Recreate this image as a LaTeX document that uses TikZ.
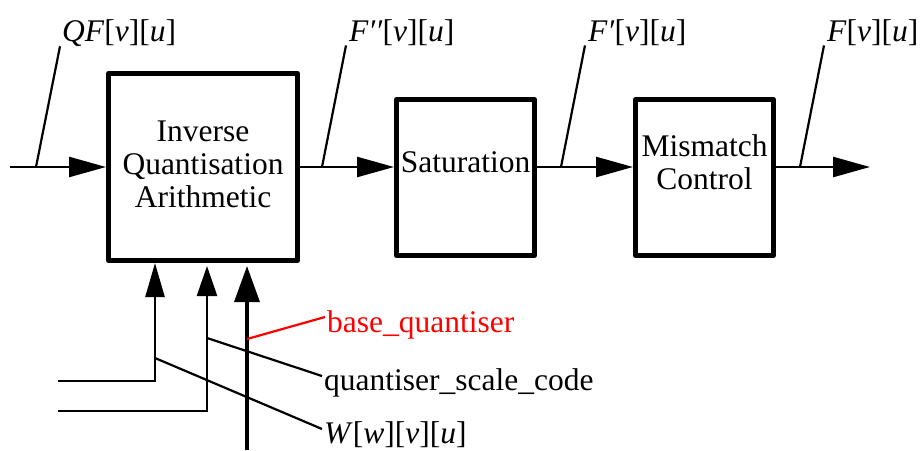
\documentclass[tikz,border=0pt]{standalone}
\usepackage{fontspec}
\setmainfont{Liberation Serif}
\usetikzlibrary{arrows.meta}
\begin{document}
\begin{tikzpicture}[x=1pt,y=-1pt,
  box/.style={draw, line width=5pt, line join=round, inner sep=0pt},
  txt/.style={inner sep=0pt, align=center, font=\fontsize{31.5}{33}\selectfont},
  lbl/.style={inner sep=0pt, font=\fontsize{31.5}{33}\selectfont},
  sig/.style={line width=2.5pt},
  arr/.style={sig, -{Triangle[length=37pt,width=20pt]}},
  lead/.style={line width=2.2pt}]
\useasboundingbox (0,0) rectangle (920,450);

% boxes
\node[box, minimum width=189pt, minimum height=187pt] (iq) at (203,167) {};
\node[box, minimum width=138pt, minimum height=156pt] (sat) at (465.5,177.5) {};
\node[box, minimum width=138pt, minimum height=156pt] (mm) at (704.5,177.5) {};
\node[txt] (iqt) at (203,164) {Inverse\\Quantisation\\Arithmetic};
\node[txt] (satt) at (465.5,162.5) {Saturation};
\node[txt] (mmt) at (704.5,162) {Mismatch\\Control};

% main signal path
\coordinate (in) at (10,167);
\coordinate (out) at (870,167);
\draw[arr] (in) -- (iq.west);
\draw[arr] (iq.east) -- (sat.west |- iq.east);
\draw[arr] (sat.east |- iq.east) -- (mm.west |- iq.east);
\draw[arr] (mm.east |- iq.east) -- (out);

% top labels
\node[lbl, anchor=base west] (qf) at (62,41) {\textit{QF}[\textit{v}][\textit{u}]};
\node[lbl, anchor=base west] (fpp) at (349,41) {\textit{F′′}[\textit{v}][\textit{u}]};
\node[lbl, anchor=base west] (fp) at (588,41) {\textit{F′}[\textit{v}][\textit{u}]};
\node[lbl, anchor=base west] (f) at (827,41) {\textit{F}[\textit{v}][\textit{u}]};
\coordinate (qfp) at (36,167);
\coordinate (fppp) at (322,167);
\coordinate (fpp2) at (561,167);
\coordinate (fp2) at (800,167);
\draw[lead] (qfp) -- ([xshift=-2pt]qf.south west);
\draw[lead] (fppp) -- ([xshift=-3pt]fpp.south west);
\draw[lead] (fpp2) -- ([xshift=-3pt]fp.south west);
\draw[lead] (fp2) -- ([xshift=-3pt]f.south west);

% bottom inputs
\coordinate (w0) at (58,381);
\coordinate (c1) at (155,381);
\coordinate (q0) at (58,411);
\coordinate (c2) at (207,411);
\coordinate (b0) at (247,450);
\draw[sig, -{Triangle[length=34pt,width=19pt]}] (w0) -- (c1) -- (c1 |- iq.south);
\draw[sig, shorten >=3pt, -{Triangle[length=30pt,width=20pt]}] (q0) -- (c2) -- (c2 |- iq.south);
\draw[line width=3.3pt, shorten >=3pt, -{Triangle[length=36pt,width=25pt]}] (b0) -- (b0 |- iq.south);

% bottom labels
\node[lbl, anchor=base west, text=red] (bq) at (327,332) {base\_quantiser};
\node[lbl, anchor=base west] (qsc) at (324,390) {quantiser\_scale\_code};
\node[lbl, anchor=base west] (wm) at (324,443) {\textit{W}[\textit{w}][\textit{v}][\textit{u}]};
\coordinate (l1) at (155,358);
\coordinate (l2) at (207,338);
\coordinate (l3) at (247,339);
\draw[lead] (l1) -- ([shift={(-2,-14)}]wm.base west);
\draw[lead] (l2) -- ([shift={(-2,-14)}]qsc.base west);
\draw[lead, red] (l3) -- ([shift={(-2,-15)}]bq.base west);
\end{tikzpicture}
\end{document}
